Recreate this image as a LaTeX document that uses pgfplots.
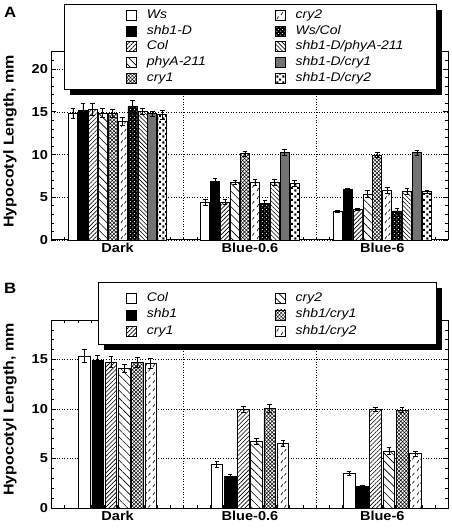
\documentclass[border=0pt]{standalone}
\usepackage{fontspec}
\setmainfont[FakeStretch=1.12]{Liberation Sans}
\usepackage{pgfplots}
\pgfplotsset{compat=1.18}
\usetikzlibrary{patterns,patterns.meta}

\pgfdeclarepatternformonly{sparsedash}{\pgfqpoint{0pt}{0pt}}{\pgfqpoint{8pt}{8pt}}{\pgfqpoint{8pt}{8pt}}{%
  \pgfsetlinewidth{0.7pt}%
  \pgfpathmoveto{\pgfqpoint{1pt}{1pt}}\pgfpathlineto{\pgfqpoint{3pt}{4pt}}%
  \pgfpathmoveto{\pgfqpoint{5pt}{5pt}}\pgfpathlineto{\pgfqpoint{7pt}{8pt}}%
  \pgfusepath{stroke}}
\pgfdeclarepatternformonly{blotch}{\pgfqpoint{0pt}{0pt}}{\pgfqpoint{6pt}{6pt}}{\pgfqpoint{6pt}{6pt}}{%
  \pgfpathrectangle{\pgfqpoint{0.5pt}{0.5pt}}{\pgfqpoint{2.2pt}{2.4pt}}%
  \pgfpathrectangle{\pgfqpoint{3.5pt}{3.5pt}}{\pgfqpoint{2.2pt}{2.4pt}}%
  \pgfusepath{fill}}
\pgfdeclarepatternformonly{wdots}{\pgfqpoint{0pt}{0pt}}{\pgfqpoint{4pt}{4pt}}{\pgfqpoint{4pt}{4pt}}{%
  \pgfpathcircle{\pgfqpoint{1pt}{1pt}}{0.65pt}%
  \pgfpathcircle{\pgfqpoint{3pt}{3pt}}{0.65pt}%
  \pgfusepath{fill}}

\pgfplotsset{
  basebar/.style={ybar, bar shift=0pt, draw=black, line width=0.7pt,
    error bars/y dir=both, error bars/y explicit,
    error bars/error bar style={line width=0.7pt, black, solid},
    error bars/error mark options={rotate=90, black, mark size=2.3pt, line width=0.7pt}},
  barA/.style={basebar, bar width=0.068},
  barB/.style={basebar, bar width=0.088},
  pWhite/.style={fill=white},
  pBlack/.style={fill=black},
  pDenseNE/.style={preaction={fill=white}, pattern={Lines[angle=45, distance=3pt, line width=0.6pt]}},
  pSparseNW/.style={preaction={fill=white}, pattern={Lines[angle=-45, distance=5.5pt, line width=0.6pt]}},
  pDenseNW/.style={preaction={fill=white}, pattern={Lines[angle=-45, distance=3pt, line width=0.6pt]}},
  pHatch/.style={preaction={fill=white}, pattern={Hatch[angle=45, distance=2.6pt, line width=0.5pt]}},
  pDash/.style={preaction={fill=white}, pattern=sparsedash},
  pWdots/.style={preaction={fill=black}, pattern=wdots, pattern color=white},
  pGray/.style={fill=black!55},
  pBlotch/.style={preaction={fill=white}, pattern=blotch},
  commonaxis/.style={
    anchor=south west,
    scale only axis, width=397pt, height=188pt,
    xmin=-0.5, xmax=2.5, ymin=0,
    clip=false,
    xtick={0,1,2}, xticklabels={Dark,Blue-0.6,Blue-6},
    major x tick style={draw=none},
    minor xtick={-0.4,-0.3,...,2.45},
    extra x ticks={0.5,1.5}, extra x tick labels={}, extra x tick style={grid=major},
    ymajorgrids,
    grid style={black, line width=0.6pt, dotted},
    tick align=inside, major tick length=5pt, minor tick length=3pt,
    every tick/.style={black, line width=0.7pt},
    axis line style={line width=1pt},
    ticklabel style={font=\bfseries\fontsize{13}{15}\selectfont},
    /pgf/number format/assume math mode=true,
    ylabel={Hypocotyl Length, mm},
    every axis y label/.style={at={([xshift=-41.4pt]rel axis cs:0,0.524)}, rotate=90, anchor=center,
      font=\bfseries\fontsize{14.3}{16}\selectfont},
    legend cell align=left,
    legend image code/.code={\draw[##1, line width=0.7pt] (0pt,-5pt) rectangle (10pt,5pt);},
  },
}

\begin{document}
\begin{tikzpicture}

% ---------------- Panel B (bottom) ----------------
\begin{axis}[commonaxis, at={(0pt,0pt)},
  ymax=19,
  ytick={0,5,10,15}, minor ytick={1,2,3,4,6,7,8,9,11,12,13,14,16,17,18},
  legend columns=3, transpose legend,
  legend style={at={(0.1879,1.1489)}, anchor=north west, draw=none, fill=none,
    inner sep=0pt, row sep=4.7pt, column sep=10pt,
    font=\itshape\fontsize{12.5}{14}\selectfont,
    nodes={inner sep=0pt, text height=9pt, text depth=3pt}},
]
\addplot[barB, pWhite] coordinates {(-0.25,15.35) +- (0,0.65) (0.75,4.4) +- (0,0.3) (1.75,3.5) +- (0,0.2)};
\addplot[barB, pBlack] coordinates {(-0.15,14.95) +- (0,0.45) (0.85,3.2) +- (0,0.2) (1.85,2.2) +- (0,0.1)};
\addplot[barB, pDenseNE] coordinates {(-0.05,14.75) +- (0,0.55) (0.95,10.0) +- (0,0.3) (1.95,9.95) +- (0,0.2)};
\addplot[barB, pSparseNW] coordinates {(0.05,14.1) +- (0,0.4) (1.05,6.7) +- (0,0.3) (2.05,5.75) +- (0,0.35)};
\addplot[barB, pHatch] coordinates {(0.15,14.75) +- (0,0.5) (1.15,10.1) +- (0,0.4) (2.15,9.9) +- (0,0.25)};
\addplot[barB, pDash] coordinates {(0.25,14.6) +- (0,0.5) (1.25,6.5) +- (0,0.3) (2.25,5.5) +- (0,0.25)};
\legend{\makebox[118pt][l]{Col},\makebox[118pt][l]{shb1},\makebox[118pt][l]{cry1},
  cry2,shb1/cry1,shb1/cry2}
\fill[black, xshift=5.5pt, yshift=-5.5pt] (rel axis cs:0.1174,0.8723) rectangle (rel axis cs:0.9688,1.2021);
\draw[line width=1pt, fill=white] (rel axis cs:0.1174,0.8723) rectangle (rel axis cs:0.9688,1.2021);
\node[anchor=north west, inner sep=0pt, font=\bfseries\fontsize{15}{15}\selectfont] at ([xshift=-47.4pt]rel axis cs:0,1.1968) {B};
\end{axis}

% ---------------- Panel A (top) ----------------
\begin{axis}[commonaxis, at={(0pt,268pt)},
  ymax=22,
  ytick={0,5,10,15,20}, minor ytick={1,2,3,4,6,7,8,9,11,12,13,14,16,17,18,19,21},
  legend columns=5, transpose legend,
  legend style={at={(0.1879,1.2287)}, anchor=north west, draw=none, fill=none,
    inner sep=0pt, row sep=3.8pt, column sep=10pt,
    font=\itshape\fontsize{12.5}{14}\selectfont,
    nodes={inner sep=0pt, text height=9pt, text depth=3pt}},
]
\addplot[barA, pWhite] coordinates {(-0.3375,14.8) +- (0,0.6) (0.6625,4.45) +- (0,0.35) (1.6625,3.35) +- (0,0.12)};
\addplot[barA, pBlack] coordinates {(-0.2625,15.2) +- (0,0.8) (0.7375,6.9) +- (0,0.3) (1.7375,5.9) +- (0,0.15)};
\addplot[barA, pDenseNE] coordinates {(-0.1875,15.3) +- (0,0.7) (0.8125,4.45) +- (0,0.3) (1.8125,3.6) +- (0,0.15)};
\addplot[barA, pSparseNW] coordinates {(-0.1125,14.85) +- (0,0.5) (0.8875,6.75) +- (0,0.25) (1.8875,5.4) +- (0,0.4)};
\addplot[barA, pHatch] coordinates {(-0.0375,14.8) +- (0,0.45) (0.9625,10.1) +- (0,0.3) (1.9625,9.95) +- (0,0.3)};
\addplot[barA, pDash] coordinates {(0.0375,13.9) +- (0,0.5) (1.0375,6.75) +- (0,0.4) (2.0375,5.85) +- (0,0.35)};
\addplot[barA, pWdots] coordinates {(0.1125,15.6) +- (0,0.8) (1.1125,4.3) +- (0,0.35) (2.1125,3.4) +- (0,0.3)};
\addplot[barA, pDenseNW] coordinates {(0.1875,15.05) +- (0,0.4) (1.1875,6.8) +- (0,0.35) (2.1875,5.7) +- (0,0.3)};
\addplot[barA, pGray] coordinates {(0.2625,14.8) +- (0,0.3) (1.2625,10.25) +- (0,0.3) (2.2625,10.2) +- (0,0.3)};
\addplot[barA, pBlotch] coordinates {(0.3375,14.65) +- (0,0.5) (1.3375,6.6) +- (0,0.35) (2.3375,5.65) +- (0,0.2)};
\legend{\makebox[118pt][l]{Ws},\makebox[118pt][l]{shb1-D},\makebox[118pt][l]{Col},\makebox[118pt][l]{phyA-211},\makebox[118pt][l]{cry1},
  cry2,Ws/Col,shb1-D/phyA-211,shb1-D/cry1,shb1-D/cry2}
\fill[black, xshift=5.5pt, yshift=-5.5pt] (rel axis cs:0.0317,0.7979) rectangle (rel axis cs:0.9688,1.2553);
\draw[line width=1pt, fill=white] (rel axis cs:0.0317,0.7979) rectangle (rel axis cs:0.9688,1.2553);
\node[anchor=north west, inner sep=0pt, font=\bfseries\fontsize{15}{15}\selectfont] at ([xshift=-47.4pt]rel axis cs:0,1.2394) {A};
\end{axis}

\path (-50.4pt,-20pt) rectangle (399.6pt,508pt);
\end{tikzpicture}
\end{document}
